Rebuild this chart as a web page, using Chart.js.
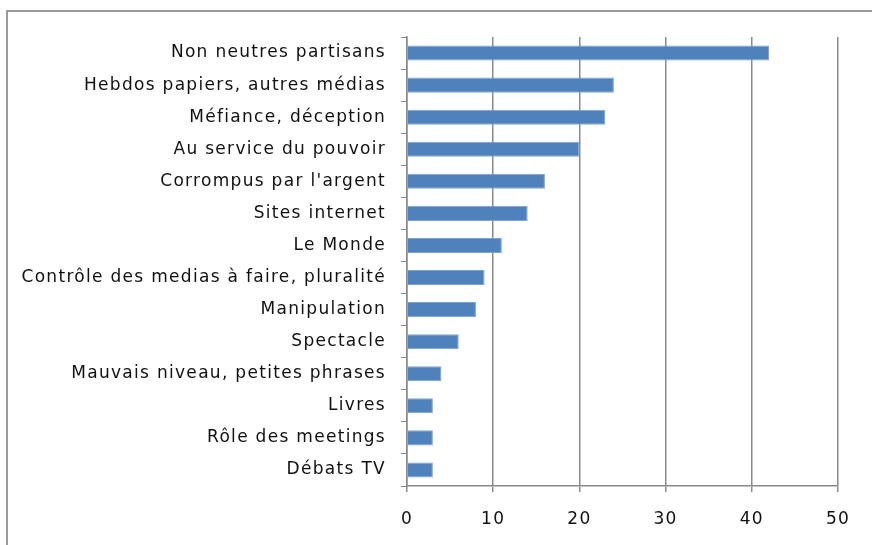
<!DOCTYPE html>
<html>
<head>
<meta charset="utf-8">
<script src="https://cdn.jsdelivr.net/npm/chart.js@4/dist/chart.umd.min.js"></script>
<style>
  html, body { margin: 0; padding: 0; background: #fff; }
  #wrap { position: relative; width: 872px; height: 545px; }
</style>
</head>
<body>
<div id="wrap"><canvas id="graf" width="872" height="545"></canvas></div>
<script>
// Catégories (de haut en bas)
const categories = [
  'Non neutres partisans',
  'Hebdos papiers, autres médias',
  'Méfiance, déception',
  'Au service du pouvoir',
  "Corrompus par l'argent",
  'Sites internet',
  'Le Monde',
  'Contrôle des medias à faire, pluralité',
  'Manipulation',
  'Spectacle',
  'Mauvais niveau, petites phrases',
  'Livres',
  'Rôle des meetings',
  'Débats TV'
]
const valeurs = [42, 24, 23, 20, 16, 14, 11, 9, 8, 6, 4, 3, 3, 3]
const ticksX = [0, 10, 20, 30, 40, 50]

const police = "'DejaVu Sans', sans-serif"

// cadre gris autour du graphique + espacement des lettres
const cadre = {
  id: 'cadre',
  beforeInit(chart) {
    chart.ctx.letterSpacing = '1.3px'
  },
  beforeDraw(chart) {
    const ctx = chart.ctx
    ctx.letterSpacing = '1.3px'
    ctx.save()
    ctx.strokeStyle = '#9a9a9a'
    ctx.lineWidth = 2
    ctx.strokeRect(7, 11, 900, 600)
    ctx.restore()
  }
}

const ctx = document.getElementById('graf').getContext('2d')
new Chart(ctx, {
  type: 'bar',
  data: {
    labels: categories,
    datasets: [{
      data: valeurs,
      backgroundColor: '#4f81bd',
      borderColor: '#7ea3d0',
      borderWidth: 1,
      barPercentage: 0.47,
      categoryPercentage: 1.0
    }]
  },
  options: {
    indexAxis: 'y',
    responsive: false,
    animation: false,
    layout: { padding: { top: 37, right: 34, left: 0, bottom: 0 } },
    plugins: { legend: { display: false }, tooltip: { enabled: false } },
    scales: {
      x: {
        min: 0,
        max: 50,
        afterBuildTicks: s => { s.ticks = ticksX.map(v => ({ value: v })) },
        afterFit: s => { s.height = 59 },
        grid: { color: '#8a8a8a', lineWidth: 1.5, tickLength: 6, drawTicks: true },
        border: { color: '#8a8a8a', width: 1.5 },
        ticks: { color: '#111', font: { family: police, size: 17 }, padding: 17 }
      },
      y: {
        afterFit: s => { s.width = 407 },
        grid: { offset: true, drawOnChartArea: false, color: '#8a8a8a', tickLength: 6 },
        border: { color: '#8a8a8a', width: 1.5 },
        ticks: { color: '#111', font: { family: police, size: 17 }, padding: 15 }
      }
    }
  },
  plugins: [cadre]
})
</script>
</body>
</html>
